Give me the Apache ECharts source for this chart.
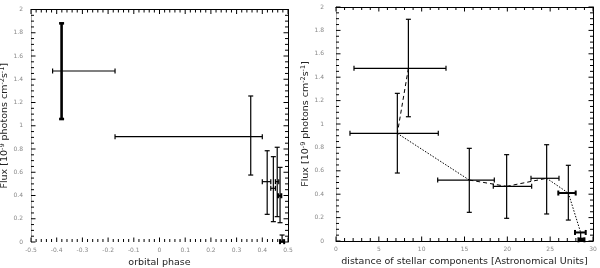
<!DOCTYPE html>
<html>
<head>
<meta charset="utf-8">
<script src="https://cdn.jsdelivr.net/npm/echarts@6/dist/echarts.min.js"></script>
<style>html,body{margin:0;padding:0;background:#fff}#c{width:600px;height:268px}</style>
</head>
<body>
<div id="c"></div>
<script>
// ---- Left panel: flux vs orbital phase ----
const phase    = [-0.381, 0.355, 0.419, 0.443, 0.458, 0.469, 0.477];
const phaseLo  = [-0.416, -0.173, 0.400, 0.433, 0.451, 0.461, 0.469];
const phaseHi  = [-0.173, 0.400, 0.433, 0.451, 0.464, 0.474, 0.485];
const fluxL    = [1.471, 0.906, 0.519, 0.462, 0.519, 0.398, 0.003];
const fluxLLo  = [1.058, 0.576, 0.238, 0.175, 0.218, 0.166, 0.000];
const fluxLHi  = [1.881, 1.256, 0.785, 0.734, 0.815, 0.642, 0.060];

// ---- Right panel: flux vs distance of stellar components ----
const dist     = [8.45, 7.16, 15.56, 19.92, 24.59, 27.12, 28.56, 28.65];
const distLo   = [2.10, 1.63, 11.87, 18.36, 22.76, 25.95, 27.90, 28.30];
const distHi   = [12.84, 11.94, 18.48, 22.84, 26.03, 27.98, 29.15, 29.00];
const fluxR    = [1.476, 0.920, 0.521, 0.467, 0.536, 0.410, 0.073, 0.010];
const fluxRLo  = [1.062, 0.581, 0.245, 0.194, 0.231, 0.179, 0.010, 0.000];
const fluxRHi  = [1.895, 1.262, 0.792, 0.738, 0.823, 0.647, 0.073, 0.020];
const dashedSegs = [[0,1],[2,3],[3,4]];
const dottedSegs = [[1,2],[4,5],[5,6]];

// ---- Tick settings (values) ----
const phaseRange = [-0.5, 0.5], phaseStep = 0.1, phaseMinor = 5;
const distRange = [0, 30], distStep = 5, distMinor = 5;
const fluxRange = [0, 2], fluxStep = 0.2, fluxMinor = 4;

function rows(x, xl, xh, y, yl, yh) {
  return x.map((v, i) => [v, y[i], xl[i], xh[i], yl[i], yh[i]]);
}
function tickValues(range, step, minor) {
  const out = [];
  const n = Math.round((range[1] - range[0]) / step) * minor;
  for (let k = 0; k <= n; k++) {
    out.push({v: +(range[0] + k * step / minor).toFixed(6), major: k % minor === 0 ? 1 : 0});
  }
  return out;
}

function errRender(vWidth, hWidth) {
  return function (params, api) {
    const i = params.dataIndex;
    const x = api.value(0), y = api.value(1);
    const xl = api.value(2), xh = api.value(3), yl = api.value(4), yh = api.value(5);
    const pl = api.coord([xl, y]), ph = api.coord([xh, y]);
    const pb = api.coord([x, yl]), pt = api.coord([x, yh]);
    const vw = vWidth(i), hw = hWidth(i);
    const cap = 2.5;
    const L = (x1, y1, x2, y2, w) => ({type: 'line', shape: {x1, y1, x2, y2}, style: {stroke: '#000', lineWidth: w}});
    const ch = [];
    ch.push(L(pb[0], pb[1], pt[0], pt[1], vw));
    if (yh > y) ch.push(L(pt[0] - cap, pt[1], pt[0] + cap, pt[1], vw));
    if (yl < y) ch.push(L(pb[0] - cap, pb[1], pb[0] + cap, pb[1], vw));
    ch.push(L(pl[0], pl[1], ph[0], ph[1], hw));
    ch.push(L(pl[0], pl[1] - cap, pl[0], pl[1] + cap, hw));
    ch.push(L(ph[0], ph[1] - cap, ph[0], ph[1] + cap, hw));
    return {type: 'group', children: ch};
  };
}

// frame ticks drawn inward on all four sides (data rows: [x, y, isMajor])
function xTickRender(yr) {
  return function (params, api) {
    const v = api.value(0), major = api.value(2);
    const len = major ? 4.5 : 3;
    const b = api.coord([v, yr[0]]), t = api.coord([v, yr[1]]);
    const st = {stroke: '#000', lineWidth: 1};
    return {type: 'group', children: [
      {type: 'line', shape: {x1: b[0], y1: b[1], x2: b[0], y2: b[1] - len}, style: st},
      {type: 'line', shape: {x1: t[0], y1: t[1], x2: t[0], y2: t[1] + len}, style: st}
    ]};
  };
}
function yTickRender(xr) {
  return function (params, api) {
    const v = api.value(1), major = api.value(2);
    const len = major ? 4.5 : 3;
    const l = api.coord([xr[0], v]), r = api.coord([xr[1], v]);
    const st = {stroke: '#000', lineWidth: 1};
    return {type: 'group', children: [
      {type: 'line', shape: {x1: l[0], y1: l[1], x2: l[0] + len, y2: l[1]}, style: st},
      {type: 'line', shape: {x1: r[0], y1: r[1], x2: r[0] - len, y2: r[1]}, style: st}
    ]};
  };
}
function xTickData(range, step, minor, yr) {
  return tickValues(range, step, minor).map(t => [t.v, (yr[0] + yr[1]) / 2, t.major]);
}
function yTickData(range, step, minor, xr) {
  return tickValues(range, step, minor).map(t => [(xr[0] + xr[1]) / 2, t.v, t.major]);
}

const labelStyle = {color: '#888', fontSize: 6, fontFamily: 'DejaVu Sans'};
const nameStyle = {color: '#222', fontSize: 9.5, fontFamily: 'DejaVu Sans'};
const yName = 'Flux [10{s|-9} photons cm{s|-2}s{s|-1}]';
const yNameStyle = Object.assign({}, nameStyle, {
  rich: {s: {fontSize: 6.5, fontFamily: 'DejaVu Sans', color: '#222', padding: [0, 0, 5, 0]}}
});

function xAxisPair(grid, range, interval, name, nameGap, bottomLine) {
  return [
    {type: 'value', gridIndex: grid, position: 'bottom', min: range[0], max: range[1], interval,
     axisLine: {show: bottomLine, onZero: false, lineStyle: {color: '#000', width: 1}},
     axisTick: {show: false}, splitLine: {show: false},
     axisLabel: Object.assign({margin: 5}, labelStyle),
     name, nameLocation: 'middle', nameGap, nameTextStyle: nameStyle},
    {type: 'value', gridIndex: grid, position: 'top', min: range[0], max: range[1], interval,
     axisLine: {show: true, onZero: false, lineStyle: {color: '#000', width: 1}},
     axisTick: {show: false}, splitLine: {show: false}, axisLabel: {show: false}}
  ];
}
function yAxisPair(grid, labelMargin, nameGap) {
  return [
    {type: 'value', gridIndex: grid, position: 'left', min: fluxRange[0], max: fluxRange[1], interval: fluxStep,
     axisLine: {show: true, onZero: false, lineStyle: {color: '#aaa', width: 1}},
     axisTick: {show: false}, splitLine: {show: false},
     axisLabel: Object.assign({margin: labelMargin, formatter: v => String(+v.toFixed(1))}, labelStyle),
     name: yName, nameLocation: 'middle', nameGap, nameTextStyle: yNameStyle},
    {type: 'value', gridIndex: grid, position: 'right', min: fluxRange[0], max: fluxRange[1], interval: fluxStep,
     axisLine: {show: true, onZero: false, lineStyle: {color: '#000', width: 1}},
     axisTick: {show: false}, splitLine: {show: false}, axisLabel: {show: false}}
  ];
}

const segSeries = [];
dashedSegs.forEach(s => segSeries.push({
  type: 'line', xAxisIndex: 2, yAxisIndex: 2, symbol: 'none', silent: true,
  lineStyle: {color: '#000', width: 1, type: [4, 3]},
  data: s.map(k => [dist[k], fluxR[k]])
}));
dottedSegs.forEach(s => segSeries.push({
  type: 'line', xAxisIndex: 2, yAxisIndex: 2, symbol: 'none', silent: true,
  lineStyle: {color: '#000', width: 1, type: [1.5, 1.5]},
  data: s.map(k => [dist[k], fluxR[k]])
}));

const chart = echarts.init(document.getElementById('c'), null, {renderer: 'canvas'});
chart.setOption({
  animation: false,
  backgroundColor: '#fff',
  grid: [
    {left: 31, right: 312, top: 9.5, bottom: 26, containLabel: false, outerBoundsMode: 'none'},
    {left: 336, right: 7, top: 7, bottom: 27, containLabel: false, outerBoundsMode: 'none'}
  ],
  xAxis: [
    ...xAxisPair(0, phaseRange, phaseStep, 'orbital phase', 16, false),
    ...xAxisPair(1, distRange, distStep, 'distance of stellar components [Astronomical Units]', 15, true)
  ],
  yAxis: [
    ...yAxisPair(0, 8, 18),
    ...yAxisPair(1, 12, 24)
  ],
  series: [
    {type: 'custom', xAxisIndex: 0, yAxisIndex: 0, silent: true, clip: false, z: 5,
     renderItem: xTickRender(fluxRange), data: xTickData(phaseRange, phaseStep, phaseMinor, fluxRange)},
    {type: 'custom', xAxisIndex: 0, yAxisIndex: 0, silent: true, clip: false, z: 5,
     renderItem: yTickRender(phaseRange), data: yTickData(fluxRange, fluxStep, fluxMinor, phaseRange)},
    {type: 'custom', xAxisIndex: 2, yAxisIndex: 2, silent: true, clip: false, z: 5,
     renderItem: xTickRender(fluxRange), data: xTickData(distRange, distStep, distMinor, fluxRange)},
    {type: 'custom', xAxisIndex: 2, yAxisIndex: 2, silent: true, clip: false, z: 5,
     renderItem: yTickRender(distRange), data: yTickData(fluxRange, fluxStep, fluxMinor, distRange)},
    {type: 'custom', xAxisIndex: 0, yAxisIndex: 0, silent: true,
     renderItem: errRender(i => (i === 0 ? 2.6 : 1.2), i => (i === 5 || i === 6 ? 2 : 1.2)),
     data: rows(phase, phaseLo, phaseHi, fluxL, fluxLLo, fluxLHi)},
    {type: 'custom', xAxisIndex: 2, yAxisIndex: 2, silent: true,
     renderItem: errRender(i => (i === 7 ? 2 : 1.2), i => (i >= 5 ? 2 : 1.2)),
     data: rows(dist, distLo, distHi, fluxR, fluxRLo, fluxRHi)},
    ...segSeries
  ]
});
</script>
</body>
</html>
